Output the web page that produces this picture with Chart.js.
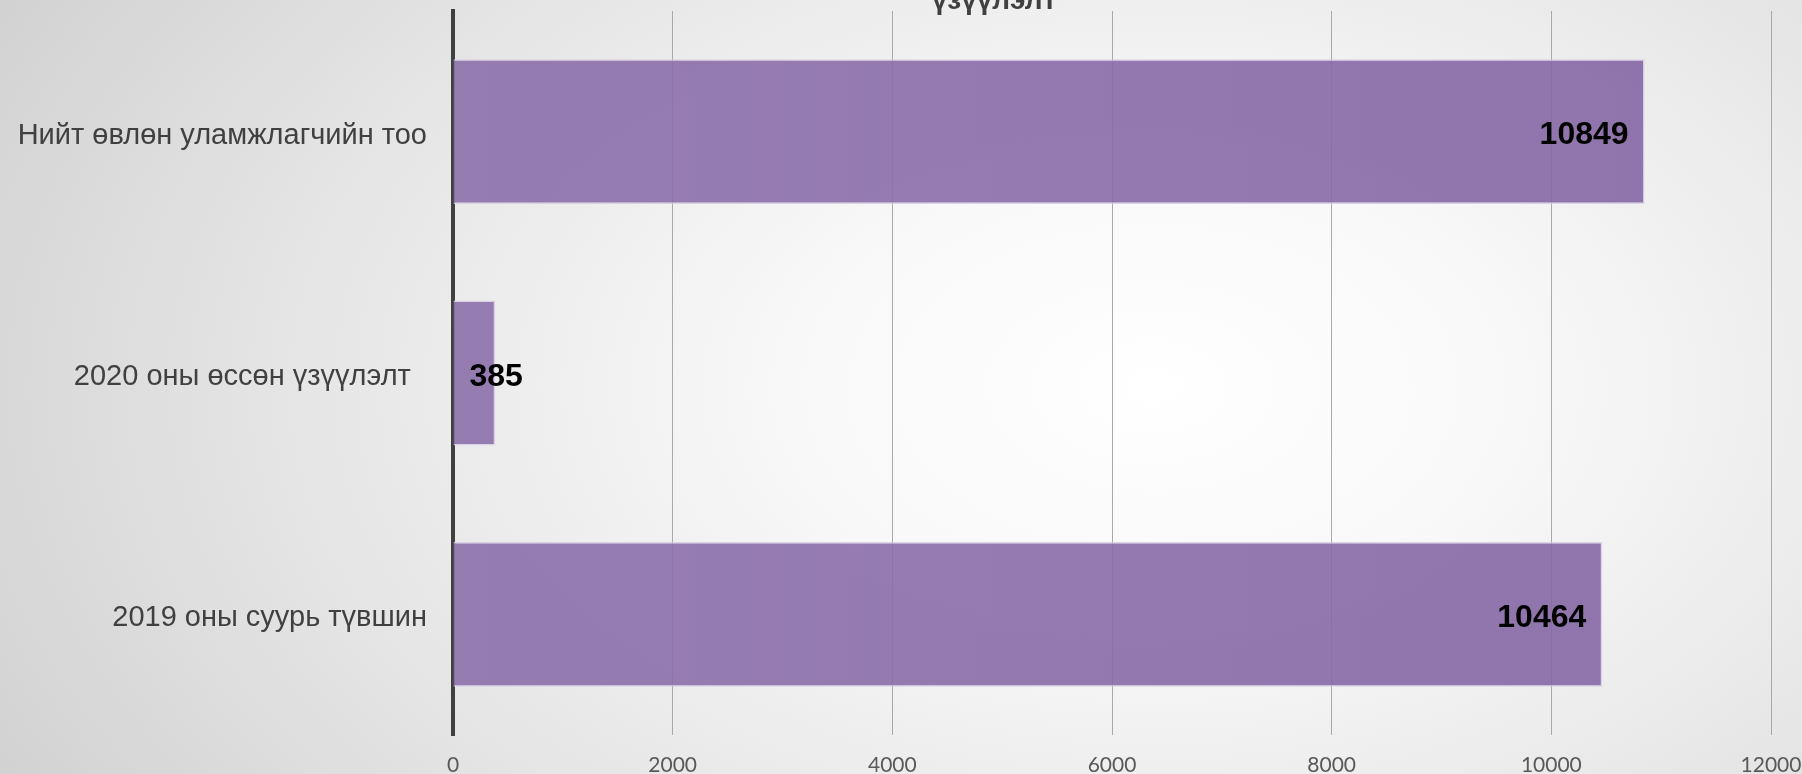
<!DOCTYPE html>
<html>
<head>
<meta charset="utf-8">
<script src="https://cdn.jsdelivr.net/npm/chart.js@4"></script>
<style>
  html, body { margin: 0; padding: 0; overflow: hidden; }
  body {
    width: 1802px; height: 774px;
    background: radial-gradient(ellipse 85% 125% at 64% 50%, #ffffff 0%, #f8f8f8 24%, #e6e6e6 55%, #d0d0d0 88%, #c8c8c8 100%);
  }
  #wrap { position: relative; width: 1802px; height: 774px; }
</style>
</head>
<body>
<div id="wrap"><canvas id="chart"></canvas></div>
<script>
// categories, top to bottom as in the picture
const categories = ['Нийт өвлөн уламжлагчийн тоо', '2020 оны өссөн үзүүлэлт  ', '2019 оны суурь түвшин'];
const values = [10849, 385, 10464];
const xTicks = [0, 2000, 4000, 6000, 8000, 10000, 12000];
const titleTail = 'үзүүлэлт';

// only the bottom of the last title line shows at the top edge
const clippedTitle = {
  id: 'clippedTitle',
  afterDraw(chart) {
    const ctx = chart.ctx;
    ctx.save();
    ctx.font = 'bold 28px "Liberation Sans", Arial, sans-serif';
    ctx.fillStyle = '#404040';
    ctx.textAlign = 'center';
    ctx.textBaseline = 'alphabetic';
    ctx.fillText(titleTail, 994, 9);
    ctx.restore();
  }
};

// category labels, sitting a little below the bar centre like the original
const categoryLabels = {
  id: 'categoryLabels',
  afterDraw(chart) {
    const ctx = chart.ctx;
    const yScale = chart.scales.y;
    ctx.save();
    ctx.font = '29px "Liberation Sans", Arial, sans-serif';
    ctx.fillStyle = '#404040';
    ctx.textAlign = 'right';
    ctx.textBaseline = 'middle';
    categories.forEach((label, i) => {
      ctx.fillText(label, yScale.right - 26, yScale.getPixelForTick(i) + 4);
    });
    ctx.restore();
  }
};

// value labels at inside end, pushed right of the base when the bar is short
const valueLabels = {
  id: 'valueLabels',
  afterDatasetsDraw(chart) {
    const ctx = chart.ctx;
    const meta = chart.getDatasetMeta(0);
    ctx.save();
    ctx.font = 'bold 32px "Liberation Sans", Arial, sans-serif';
    ctx.fillStyle = '#000000';
    ctx.textBaseline = 'middle';
    ctx.textAlign = 'left';
    meta.data.forEach((bar, i) => {
      const txt = String(values[i]);
      const w = ctx.measureText(txt).width;
      let left = bar.x - 16 - w;
      if (left < bar.base + 16) left = bar.base + 16;
      ctx.fillText(txt, left, bar.y + 4);
    });
    ctx.restore();
  }
};

const barFill = (context) => {
  const area = context.chart.chartArea;
  if (!area) return 'rgba(136,108,167,0.9)';
  const g = context.chart.ctx.createLinearGradient(area.left, 0, area.right, 0);
  g.addColorStop(0, 'rgba(140,112,170,0.9)');
  g.addColorStop(1, 'rgba(131,102,163,0.9)');
  return g;
};

const config = {
  type: 'bar',
  data: {
    labels: categories,
    datasets: [{
      data: values,
      backgroundColor: barFill,
      borderColor: 'rgba(215,203,230,0.85)',
      borderWidth: 1.5,
      barPercentage: 0.6,
      categoryPercentage: 1.0,
    }]
  },
  options: {
    indexAxis: 'y',
    responsive: true,
    maintainAspectRatio: false,
    animation: false,
    layout: {
      padding: { top: 11, right: 31, bottom: 0, left: 0 }
    },
    plugins: {
      legend: { display: false },
      title: { display: false },
      tooltip: { enabled: false }
    },
    scales: {
      x: {
        type: 'linear',
        min: 0,
        max: 12000,
        afterBuildTicks(scale) {
          scale.ticks = xTicks.map(v => ({ value: v }));
        },
        afterFit(scale) {
          scale.height = 39;
          scale.paddingLeft = 0;
          scale.paddingRight = 0;
        },
        grid: { color: '#a9a9a9', lineWidth: 1, drawTicks: false },
        border: { display: false },
        ticks: {
          padding: 18,
          color: '#595959',
          font: { family: 'Lato, "Open Sans", sans-serif', size: 21 },
          maxRotation: 0,
          callback: (v) => String(v)
        }
      },
      y: {
        z: 1,
        grid: { display: false, drawTicks: false },
        border: { display: true, color: '#404040', width: 4 },
        afterFit(scale) {
          scale.width = 453;
          scale.paddingTop = 0;
          scale.paddingBottom = 0;
        },
        ticks: { display: false }
      }
    }
  },
  plugins: [valueLabels, categoryLabels, clippedTitle]
};

new Chart(document.getElementById('chart'), config);
</script>
</body>
</html>
